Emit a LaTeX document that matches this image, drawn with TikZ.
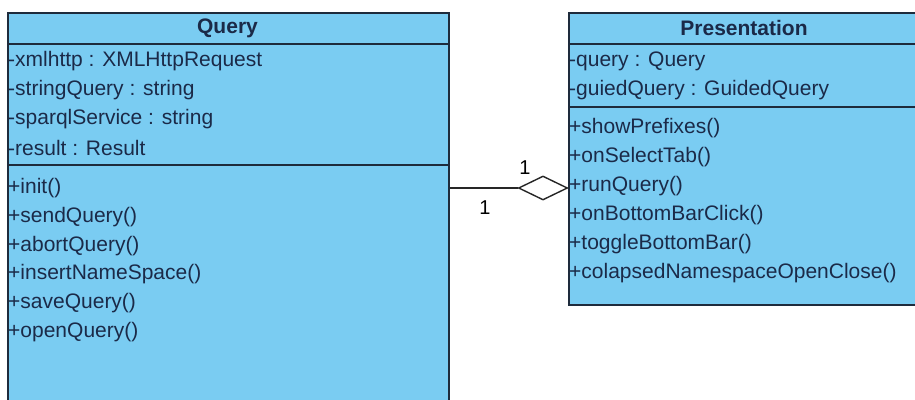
\documentclass[tikz,border=0pt]{standalone}
\usepackage{fontspec}
\setmainfont{Liberation Sans}
\usetikzlibrary{shapes.geometric,positioning}
\definecolor{classfill}{HTML}{7ACCF2}
\definecolor{classline}{HTML}{1E2B3C}
\definecolor{classtext}{HTML}{1B2A48}
\tikzset{classbox/.style={draw=classline,fill=classfill,line width=1.6pt,
  anchor=north west,inner sep=0pt}, divider/.style={draw=classline,line width=1.6pt},
  member/.style={anchor=west,inner sep=0pt,text=classtext,font=\fontsize{21}{25}\selectfont},
  classname/.style={inner sep=0pt,text=classtext,font=\fontsize{21}{25}\selectfont\bfseries},
  aggr/.style={diamond,draw=black!85,fill=white,line width=1.4pt,minimum width=49pt,
  minimum height=24pt,inner sep=0pt}, assoc/.style={draw=black!85,line width=1.4pt},
  mult/.style={inner sep=0pt,font=\fontsize{20}{24}\selectfont}}

\begin{document}
\begin{tikzpicture}[x=1pt,y=-1pt]
 \useasboundingbox (0,0) rectangle (915,399);
 \clip (0,0) rectangle (915,399);
 \fill[white] (0,0) rectangle (915,399);
 % Query class
 \node[classbox,minimum width=441pt,minimum height=420pt] (query) at (7,12) {};
 \node[classname] (querytitle) at (227.5,28) {Query};
 \draw[divider] ([yshift=-32pt]query.north west) -- ([yshift=-32pt]query.north east);
 \draw[divider] ([yshift=-153pt]query.north west) -- ([yshift=-153pt]query.north east);
 \foreach \t [count=\i from 0] in {-xmlhttp : XMLHttpRequest,-stringQuery : string,
   -sparqlService : string,-result : Result}
  \node[member] (qattr\i) at (8,61+29*\i) {\t};
 \foreach \t [count=\i from 0] in {+init(),+sendQuery(),+abortQuery(),
   +insertNameSpace(),+saveQuery(),+openQuery()}
  \node[member] (qop\i) at (8,188+28.8*\i) {\t};
 % Presentation class
 \node[classbox,minimum width=352pt,minimum height=292pt] (pres) at (568,12) {};
 \node[classname] (prestitle) at (744,28) {Presentation};
 \draw[divider] ([yshift=-32pt]pres.north west) -- ([yshift=-32pt]pres.north east);
 \draw[divider] ([yshift=-95pt]pres.north west) -- ([yshift=-95pt]pres.north east);
 \foreach \t [count=\i from 0] in {-query : Query,-guiedQuery : GuidedQuery}
  \node[member] (pattr\i) at (569,61+29*\i) {\t};
 \foreach \t [count=\i from 0] in {+showPrefixes(),+onSelectTab(),+runQuery(),
   +onBottomBarClick(),+toggleBottomBar(),+colapsedNamespaceOpenClose()}
  \node[member] (pop\i) at (569,128+29*\i) {\t};
 % aggregation
 \node[aggr] (agg) at (543,188) {};
 \draw[assoc] (agg.west -| query.east) -- (agg.west);
 \node[mult] (mpres) at (525,168) {1};
 \node[mult] (mquery) at (485,208) {1};
\end{tikzpicture}
\end{document}
